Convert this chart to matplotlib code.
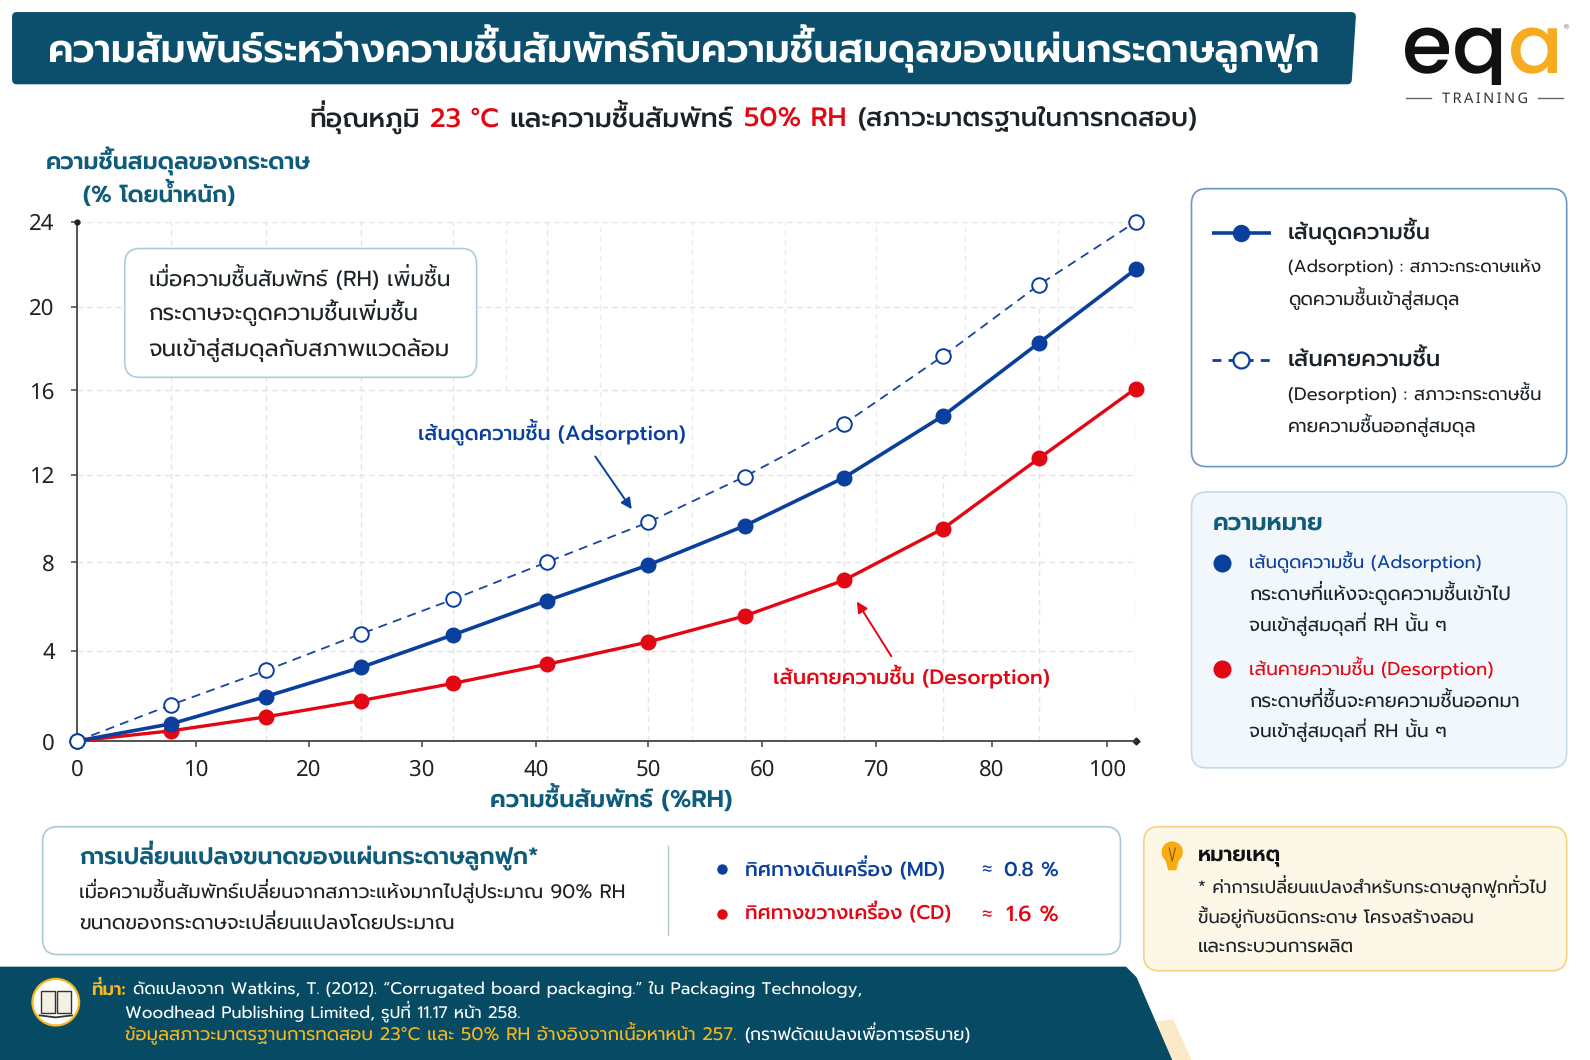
import matplotlib
matplotlib.use("Agg")
import matplotlib.pyplot as plt
import numpy as np
from matplotlib.patches import FancyBboxPatch, Polygon, Circle, Rectangle

# values
rh_points = [0, 7.9, 16.2, 24.6, 32.7, 41.0, 50.0, 58.5, 67.2, 75.8, 88.2, 104.9]
adsorption_open = [0, 1.6, 3.13, 4.76, 6.31, 8.0, 9.82, 11.93, 14.41, 17.64, 21.04, 24.0]
adsorption = [0, 0.76, 1.97, 3.26, 4.71, 6.26, 7.86, 9.67, 11.88, 14.79, 18.27, 21.76]
desorption = [0, 0.45, 1.07, 1.79, 2.55, 3.4, 4.39, 5.57, 7.18, 9.54, 12.79, 16.07]

x_ticks = [0, 10, 20, 30, 40, 50, 60, 70, 80, 100]
x_tick_labels = ["0", "10", "20", "30", "40", "50", "60", "70", "80", "100"]
y_ticks = [0, 4, 8, 12, 16, 20, 24]

# dashed vertical grid: low part under the curves, upper part above them
grid_low_top = [24, 24, 24, 24, 24, 9.5, 8, 12, 12, 20, 24]
grid_upper_x = [37.4, 45.7, 53.9, 62, 70, 77.7, 91.5]
grid_upper_bottom = [16, 12, 0, 0, 8, 12, 16]

# the picture's axes are not evenly spaced, these are the pixel offsets of the ticks
x_scale_at = [0, 10, 20, 30, 40, 50, 60, 70, 80, 100, 104.9]
x_scale_px = [0, 119, 232, 345, 459, 571, 685, 799, 915, 1030, 1058.5]
y_scale_at = [0, 4, 8, 12, 16, 20, 24]
y_scale_px = [0, 90.3, 179, 266, 351, 434.3, 519]

DARK = "#0b4f6c"
TEAL = "#0f5b7a"
BLUE = "#0b3f9e"
RED = "#e30613"
INK = "#1c2226"
GOLD = "#f7b81e"
THAI = ["Prompt", "DejaVu Sans"]
TONES = "\u0e48\u0e49\u0e4a\u0e4b"
UPPER_VOWELS = "\u0e31\u0e34\u0e35\u0e36\u0e37"
SARA_AM = "\u0e33"

plt.rcParams["text.hinting"] = "no_hinting"
plt.rcParams["text.hinting_factor"] = 1

W, H = 1590, 1060
fig = plt.figure(figsize=(W / 100, H / 100), dpi=100, facecolor="white")
renderer = fig.canvas.get_renderer()

# chart axes, placed in pixels
left, right, top, bottom = 77, 1135.5, 222, 741
ax = fig.add_axes([left / W, 1 - bottom / H, (right - left) / W, (bottom - top) / H])
ax.set_xscale("function", functions=(lambda v: np.interp(v, x_scale_at, x_scale_px),
                                     lambda v: np.interp(v, x_scale_px, x_scale_at)))
ax.set_yscale("function", functions=(lambda v: np.interp(v, y_scale_at, y_scale_px),
                                     lambda v: np.interp(v, y_scale_px, y_scale_at)))
ax.set_xlim(0, 104.9)
ax.set_ylim(0, 24)
for s in ["top", "right"]:
    ax.spines[s].set_visible(False)
for s in ["left", "bottom"]:
    ax.spines[s].set_color("#444444")
    ax.spines[s].set_linewidth(1.3)
ax.set_xticks(x_ticks)
ax.set_xticklabels(x_tick_labels)
ax.set_yticks(y_ticks)
ax.set_yticklabels([str(v) for v in y_ticks])
ax.minorticks_off()
ax.tick_params(axis="both", labelsize=16, length=4, width=1.1, color="#444444", labelcolor=INK)
ax.tick_params(axis="x", pad=9)
ax.tick_params(axis="y", pad=12)
for lab in ax.get_xticklabels() + ax.get_yticklabels():
    lab.set_family("Noto Sans")

ax.hlines(y_ticks[1:], 0, 104.9, color="#e4e4e4", lw=1, ls=(0, (4, 3)), zorder=0)
ax.vlines(rh_points[1:], 0, grid_low_top, color="#e4e4e4", lw=1, ls=(0, (4, 3)), zorder=0)
ax.vlines(grid_upper_x, grid_upper_bottom, 24, color="#ebebeb", lw=1, ls=(0, (4, 3)), zorder=0)

ax.plot(rh_points, desorption, color=RED, lw=2.4, marker="o", ms=10.5, clip_on=False, zorder=3)
ax.plot(rh_points, adsorption, color=BLUE, lw=2.6, marker="o", ms=10.5, clip_on=False, zorder=4)
ax.plot(rh_points, adsorption_open, color="#1c449e", lw=1.3, ls=(0, (5, 3.5)), marker="o", ms=10.5,
        mfc="white", mec=BLUE, mew=1.4, clip_on=False, zorder=5)
ax.plot([0], [24], marker="o", ms=3.5, color="#222222", clip_on=False, zorder=6)
ax.plot([104.9], [0], marker="D", ms=3.5, color="#222222", clip_on=False, zorder=2)

# overlay in the coordinates of the shown picture
ov = fig.add_axes([0, 0, 1, 1], zorder=10)
ov.set_xlim(0, 1568)
ov.set_ylim(1045, 0)
ov.axis("off")
ov.patch.set_alpha(0)
PX = 1568 / W


def width(s, size, weight, family):
    t = ov.text(0, 0, s + "|", fontsize=size, fontweight=weight, family=family)
    w = t.get_window_extent(renderer).width
    t.set_text("|")
    w -= t.get_window_extent(renderer).width
    t.remove()
    return w * PX


def lift_tones(s):
    # no mark positioning in matplotlib: a tone over an upper vowel has to be drawn higher by hand
    out, lifted = "", []
    for i, ch in enumerate(s):
        after = s[i + 1] if i + 1 < len(s) else ""
        if ch in TONES and (s[i - 1] in UPPER_VOWELS or after == SARA_AM):
            lifted.append((len(out), ch))
        else:
            out += ch
    return out, lifted


def put(x0, y, segs, x1=None, size=14, weight=400, family=THAI, zorder=5):
    # one line of text, possibly in several colours, stretched to end at x1
    if isinstance(segs, tuple):
        segs = [segs]
    parts = [(lift_tones(s), c) for s, c in segs]
    full = "".join(p[0][0] for p in parts)
    if x1 is not None:
        for _ in range(2):
            size = size * (x1 - x0) / width(full, size, weight, family)
    size_px = size / 0.72 * PX
    base = y + 0.30 * size_px
    space = width(" ", size, weight, family)
    drawn = []
    prefix = ""
    for (s, lifted), c in parts:
        drawn.append(ov.text(x0 + width(prefix, size, weight, family), base, s, color=c, fontsize=size,
                             fontweight=weight, family=family, va="baseline", ha="left", zorder=zorder))
        for idx, mark in lifted:
            # a space in front so the mark's text has a width of its own
            ov.text(x0 + width(prefix + s[:idx], size, weight, family) - space, base - 0.2 * size_px, " " + mark,
                    color=c, fontsize=size, fontweight=weight, family=family, va="baseline", ha="left",
                    zorder=zorder)
        prefix += s
    return drawn


def box(x0, y0, x1, y1, fc, ec, lw=1.2, r=15):
    ov.add_patch(FancyBboxPatch((x0, y0), x1 - x0, y1 - y0, boxstyle=f"round,pad=0,rounding_size={r}",
                                fc=fc, ec=ec, lw=lw, zorder=2))


# header
ov.add_patch(Polygon([(16, 16), (1333, 16), (1329, 79), (16, 79)], closed=True, fc=DARK, ec=DARK,
                     lw=6, joinstyle="round", zorder=2))
put(47, 50, ("ความสัมพันธ์ระหว่างความชื้นสัมพัทธ์กับความชื้นสมดุลของแผ่นกระดาษลูกฟูก", "white"),
    x1=1302, weight=600)
put(305, 117, ("ที่อุณหภูมิ", INK), x1=414, weight=500)
put(424, 117, ("23 °C", RED), x1=492, weight=500)
put(502, 117, ("และความชื้นสัมพัทธ์", INK), x1=723, weight=500)
put(734, 117, ("50% RH", RED), x1=835, weight=500)
put(846, 117, ("(สภาวะมาตรฐานในการทดสอบ)", INK), x1=1181, weight=500)

# logo
logo = ["Poppins", "DejaVu Sans"]
logo_clip = Rectangle((1380, 10), 170, 74, transform=ov.transData)
for t in put(1383, 48, [("eq", "#111111"), ("a", "#f7ab1e")], x1=1541, size=60, weight=500, family=logo):
    t.set_clip_on(True)
    t.set_clip_path(logo_clip)
ov.text(1544, 27, "®", fontsize=5, color="#777777", ha="center", va="center")
ov.text(1464, 98, "T\u2009R\u2009A\u2009I\u2009N\u2009I\u2009N\u2009G", fontsize=10.5, color="#333333",
        ha="center", va="center", family=["Noto Sans", "DejaVu Sans"], fontweight=500)
ov.plot([1387, 1411], [97, 97], color="#666666", lw=1)
ov.plot([1517, 1541], [97, 97], color="#666666", lw=1)

# axis titles
put(45, 160, ("ความชื้นสมดุลของกระดาษ", TEAL), x1=306, weight=600)
put(82, 192, ("(% โดยน้ำหนัก)", TEAL), x1=232, weight=600)
put(483, 788, ("ความชื้นสัมพัทธ์ (%RH)", TEAL), x1=722, weight=600)

# callout
box(123, 245, 470, 372, "white", "#a9cfdc")
put(147, 275, ("เมื่อความชื้นสัมพัทธ์ (RH) เพิ่มชื้น", INK), x1=444)
put(147, 310, ("กระดาษจะดูดความชื้นเพิ่มชื้น", INK), x1=413)
put(147, 345, ("จนเข้าสู่สมดุลกับสภาพแวดล้อม", INK), x1=444)

# curve labels
put(412, 427, ("เส้นดูดความชื้น (Adsorption)", BLUE), x1=676, weight=500)
put(762, 669, ("เส้นคายความชื้น (Desorption)", RED), x1=1035, weight=500)
ov.annotate("", xy=(623, 502), xytext=(587, 450), zorder=6,
            arrowprops=dict(arrowstyle="-|>", color=BLUE, lw=1.4, shrinkA=0, shrinkB=0, mutation_scale=16))
ov.annotate("", xy=(845, 593), xytext=(879, 647), zorder=6,
            arrowprops=dict(arrowstyle="-|>", color=RED, lw=1.4, shrinkA=0, shrinkB=0, mutation_scale=16))

# legend panel
box(1175, 186, 1545, 460, "white", "#6c97c4")
ov.plot([1195, 1253], [230, 230], color=BLUE, lw=2.6, solid_capstyle="butt")
ov.plot([1224], [230], marker="o", ms=11.5, color=BLUE)
put(1270, 229, ("เส้นดูดความชื้น", INK), x1=1411, weight=500)
put(1270, 263, ("(Adsorption) : สภาวะกระดาษแห้ง", INK), x1=1520)
put(1270, 295, ("ดูดความชื้นเข้าสู่สมดุล", INK), x1=1439)
ov.plot([1195, 1253], [355, 355], color=BLUE, lw=2, ls=(0, (3.2, 2.6)), dash_capstyle="butt")
ov.plot([1224], [355], marker="o", ms=11.5, mfc="white", mec=BLUE, mew=1.6)
put(1270, 355, ("เส้นคายความชื้น", INK), x1=1421, weight=500)
put(1270, 389, ("(Desorption) : สภาวะกระดาษชื้น", INK), x1=1520)
put(1270, 420, ("คายความชื้นออกสู่สมดุล", INK), x1=1456)

# meaning panel
box(1175, 485, 1545, 757, "#f2f7fb", "#c5dbe8")
put(1196, 515, ("ความหมาย", TEAL), x1=1305, weight=600)
ov.plot([1205], [555], marker="o", ms=12, color=BLUE)
put(1232, 555, ("เส้นดูดความชื้น (Adsorption)", BLUE), x1=1461)
put(1232, 586, ("กระดาษที่แห้งจะดูดความชื้นเข้าไป", INK), x1=1490)
put(1232, 616, ("จนเข้าสู่สมดุลที่ RH นั้น ๆ", INK), x1=1427)
ov.plot([1205], [660], marker="o", ms=12, color=RED)
put(1232, 660, ("เส้นคายความชื้น (Desorption)", RED), x1=1473)
put(1232, 691, ("กระดาษที่ชื้นจะคายความชื้นออกมา", INK), x1=1499)
put(1232, 721, ("จนเข้าสู่สมดุลที่ RH นั้น ๆ", INK), x1=1427)

# dimension panel
box(42, 815, 1105, 941, "white", "#a9c8d8")
put(78, 845, ("การเปลี่ยนแปลงขนาดของแผ่นกระดาษลูกฟูก*", TEAL), x1=531, weight=600)
put(78, 879, ("เมื่อความชื้นสัมพัทธ์เปลี่ยนจากสภาวะแห้งมากไปสู่ประมาณ 90% RH", INK), x1=617)
put(78, 911, ("ขนาดของกระดาษจะเปลี่ยนแปลงโดยประมาณ", INK), x1=448)
ov.plot([659, 659], [834, 922], color="#b9c7cf", lw=1)
ov.plot([712], [857], marker="o", ms=6.5, color=BLUE)
put(735, 857, ("ทิศทางเดินเครื่อง (MD)", BLUE), x1=932, weight=500)
put(968, 857, ("≈", BLUE), size=14)
put(990, 857, ("0.8 %", BLUE), x1=1044, weight=500)
ov.plot([712], [901], marker="o", ms=6.5, color=RED)
put(735, 901, ("ทิศทางขวางเครื่อง (CD)", RED), x1=938, weight=500)
put(968, 901, ("≈", RED), size=14)
put(992, 901, ("1.6 %", RED), x1=1044, weight=500)

# note panel
box(1128, 815, 1545, 957, "#fdf7e8", "#f6d283")
ov.add_patch(Circle((1156, 840), 10.5, fc="#f9ab14", ec="none", zorder=4))
ov.add_patch(Polygon([(1149, 846), (1163, 846), (1160, 858), (1152, 858)], closed=True, fc="#f9ab14", ec="none", zorder=4))
ov.plot([1153, 1156, 1159], [836, 849, 836], color="#8a5a00", lw=0.8, zorder=5)
put(1181, 843, ("หมายเหตุ", "#111111"), x1=1263, weight=600)
put(1181, 875, ("* ค่าการเปลี่ยนแปลงสำหรับกระดาษลูกฟูกทั่วไป", INK), x1=1525)
put(1181, 905, ("ขึ้นอยู่กับชนิดกระดาษ โครงสร้างลอน", INK), x1=1453)
put(1181, 934, ("และกระบวนการผลิต", INK), x1=1335)

# footer
ov.add_patch(Polygon([(1140, 1007), (1157, 1005), (1175, 1045), (1150, 1045)], closed=True, fc="#fbe9c8", ec="none", zorder=1))
ov.add_patch(Polygon([(-5, 954), (1110, 954), (1120, 964), (1157, 1050), (-5, 1050)], closed=True, fc="#064a63",
                     ec="#064a63", lw=1.5, joinstyle="round", zorder=2))
ov.add_patch(Circle((55, 988), 23, fc="white", ec=GOLD, lw=1.6, zorder=3))
ov.add_patch(Rectangle((40, 977), 14, 22, fc="#f4f0e4", ec="#333333", lw=1, zorder=4))
ov.add_patch(Rectangle((56, 977), 14, 22, fc="#f4f0e4", ec="#333333", lw=1, zorder=4))
ov.plot([39, 55, 71], [1001, 1003, 1001], color="#333333", lw=1.3, zorder=4)
put(90, 975, ("ที่มา:", GOLD), x1=124, weight=600)
put(131, 975, ("ดัดแปลงจาก Watkins, T. (2012). “Corrugated board packaging.” ใน Packaging Technology,", "white"), x1=850)
put(123, 998, ("Woodhead Publishing Limited, รูปที่ 11.17 หน้า 258.", "white"), x1=513)
put(123, 1020, ("ข้อมูลสภาวะมาตรฐานการทดสอบ 23°C และ 50% RH อ้างอิงจากเนื้อหาหน้า 257.", GOLD), x1=726)
put(734, 1020, ("(กราฟดัดแปลงเพื่อการอธิบาย)", "white"), x1=957)

fig.savefig("out.png", dpi=100)
